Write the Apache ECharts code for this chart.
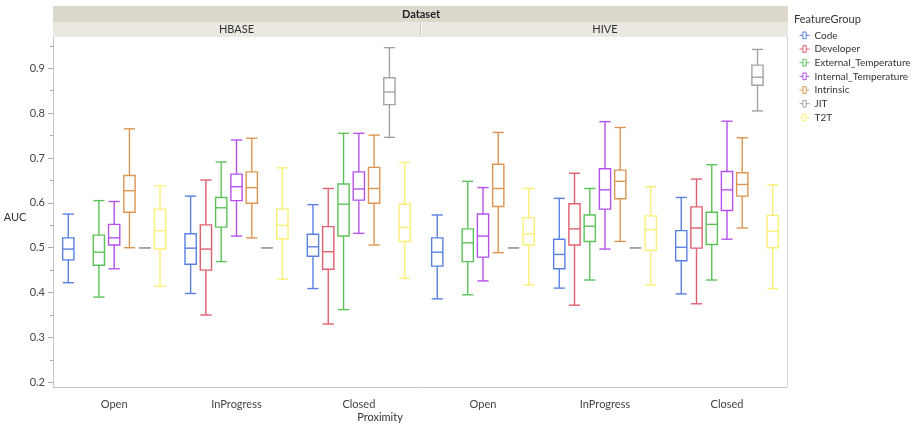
<!DOCTYPE html>
<html>
<head>
<meta charset="utf-8">
<script src="https://cdn.jsdelivr.net/npm/echarts@6/dist/echarts.min.js"></script>
<style>
  html, body { margin: 0; padding: 0; background: #fff; }
  #main { width: 921px; height: 427px; }
</style>
</head>
<body>
<div id="main"></div>
<script>
// categories
const proximity = ['Open', 'InProgress', 'Closed'];
const datasets = ['HBASE', 'HIVE'];
const groups = ['Code', 'Developer', 'External_Temperature', 'Internal_Temperature', 'Intrinsic', 'JIT', 'T2T'];
const colors = ['#5a80e4', '#e0606e', '#5cc35c', '#b452ee', '#dc9652', '#a3a3a3', '#fbef78'];

// box values per proximity: [low whisker, Q1, median, Q3, high whisker], null = no data
const codeHBASE      = [[0.422, 0.473, 0.497, 0.522, 0.575], [0.398, 0.463, 0.499, 0.531, 0.615], [0.409, 0.481, 0.502, 0.530, 0.596]];
const developerHBASE = [null, [0.350, 0.450, 0.497, 0.551, 0.651], [0.330, 0.452, 0.491, 0.547, 0.632]];
const extTempHBASE   = [[0.390, 0.461, 0.490, 0.528, 0.605], [0.469, 0.546, 0.589, 0.612, 0.691], [0.362, 0.526, 0.597, 0.642, 0.755]];
const intTempHBASE   = [[0.453, 0.506, 0.522, 0.552, 0.603], [0.526, 0.605, 0.636, 0.664, 0.740], [0.532, 0.606, 0.631, 0.669, 0.755]];
const intrinsicHBASE = [[0.500, 0.579, 0.627, 0.661, 0.765], [0.522, 0.599, 0.634, 0.669, 0.744], [0.506, 0.599, 0.632, 0.679, 0.751]];
const jitHBASE       = [[0.5, 0.5, 0.5, 0.5, 0.5], [0.5, 0.5, 0.5, 0.5, 0.5], [0.746, 0.819, 0.847, 0.879, 0.946]];
const t2tHBASE       = [[0.414, 0.497, 0.538, 0.586, 0.638], [0.430, 0.520, 0.550, 0.586, 0.678], [0.432, 0.514, 0.545, 0.597, 0.690]];

const codeHIVE      = [[0.386, 0.459, 0.490, 0.522, 0.573], [0.410, 0.453, 0.485, 0.519, 0.610], [0.397, 0.471, 0.501, 0.538, 0.612]];
const developerHIVE = [null, [0.372, 0.506, 0.542, 0.598, 0.666], [0.375, 0.499, 0.544, 0.591, 0.653]];
const extTempHIVE   = [[0.395, 0.469, 0.511, 0.542, 0.648], [0.428, 0.514, 0.548, 0.573, 0.632], [0.428, 0.507, 0.552, 0.579, 0.685]];
const intTempHIVE   = [[0.426, 0.479, 0.526, 0.575, 0.634], [0.497, 0.586, 0.629, 0.676, 0.781], [0.519, 0.583, 0.629, 0.670, 0.782]];
const intrinsicHIVE = [[0.489, 0.592, 0.632, 0.686, 0.757], [0.514, 0.609, 0.648, 0.673, 0.768], [0.544, 0.615, 0.641, 0.667, 0.745]];
const jitHIVE       = [[0.5, 0.5, 0.5, 0.5, 0.5], [0.5, 0.5, 0.5, 0.5, 0.5], [0.805, 0.862, 0.880, 0.907, 0.942]];
const t2tHIVE       = [[0.417, 0.506, 0.531, 0.567, 0.632], [0.417, 0.494, 0.540, 0.571, 0.636], [0.409, 0.500, 0.537, 0.572, 0.640]];

const yTicks = { min: 0.2, max: 1.0, interval: 0.1 };

const byDataset = [
    [codeHBASE, developerHBASE, extTempHBASE, intTempHBASE, intrinsicHBASE, jitHBASE, t2tHBASE],
    [codeHIVE, developerHIVE, extTempHIVE, intTempHIVE, intrinsicHIVE, jitHIVE, t2tHIVE]
];

const FONT = 'Lato, "Liberation Sans", sans-serif';
const chart = echarts.init(document.getElementById('main'));

// draws one box at its slot inside the category band
function boxRenderer(gi, color) {
    return function (params, api) {
        const band = api.size([1, 0])[0];
        const cat = api.value(0);
        const cx = api.coord([cat, 0.5])[0] + (gi - 3) * band * 0.125;
        const hw = band * 0.046;
        const y = k => api.coord([cat, api.value(k)])[1];
        const lo = y(1), q1 = y(2), md = y(3), q3 = y(4), hi = y(5);
        const st = { stroke: color, lineWidth: 1.4 };
        return {
            type: 'group',
            children: [
                { type: 'line', shape: { x1: cx, y1: hi, x2: cx, y2: q3 }, style: st },
                { type: 'line', shape: { x1: cx, y1: q1, x2: cx, y2: lo }, style: st },
                { type: 'line', shape: { x1: cx - hw, y1: hi, x2: cx + hw, y2: hi }, style: st },
                { type: 'line', shape: { x1: cx - hw, y1: lo, x2: cx + hw, y2: lo }, style: st },
                { type: 'rect', shape: { x: cx - hw, y: q3, width: hw * 2, height: q1 - q3 }, style: { stroke: color, lineWidth: 1.4, fill: 'none' } },
                { type: 'line', shape: { x1: cx - hw, y1: md, x2: cx + hw, y2: md }, style: st }
            ]
        };
    };
}

const series = [];
datasets.forEach((ds, di) => {
    groups.forEach((g, gi) => {
        const data = [];
        byDataset[di][gi].forEach((v, ci) => { if (v) data.push([ci].concat(v)); });
        series.push({
            type: 'custom',
            name: g,
            xAxisIndex: di,
            yAxisIndex: di,
            itemStyle: { color: colors[gi] },
            encode: { x: 0, y: [1, 2, 3, 4, 5] },
            renderItem: boxRenderer(gi, colors[gi]),
            data: data
        });
    });
});

const axisLabelStyle = { color: '#444', fontSize: 11, fontFamily: FONT };

const option = {
    animation: false,
    grid: [
        { left: 53, top: 23.4, width: 367, height: 358.9 },
        { left: 422, top: 23.4, width: 366, height: 358.9 }
    ],
    xAxis: [0, 1].map(i => ({
        type: 'category',
        gridIndex: i,
        data: proximity,
        axisLine: { show: false },
        axisTick: { show: false },
        axisLabel: Object.assign({ margin: 17 }, axisLabelStyle)
    })),
    yAxis: [0, 1].map(i => ({
        type: 'value',
        gridIndex: i,
        show: i === 0,
        min: yTicks.min,
        max: yTicks.max,
        interval: yTicks.interval,
        axisLine: { show: false },
        axisTick: { show: true, length: 5, lineStyle: { color: '#aaa' } },
        minorTick: { show: true, splitNumber: 2, length: 3, lineStyle: { color: '#aaa' } },
        splitLine: { show: false },
        axisLabel: Object.assign({ margin: 8, showMaxLabel: false, formatter: v => v.toFixed(1) }, axisLabelStyle)
    })),
    legend: {
        orient: 'vertical',
        left: 792,
        top: 24.5,
        itemWidth: 10,
        itemHeight: 8,
        itemGap: 2,
        textStyle: { fontSize: 10, color: '#333', fontFamily: FONT },
        data: groups.map((g, i) => ({
            name: g,
            icon: 'path://M0,5H4M8,5H12M4,1H8V9H4Z',
            itemStyle: { color: 'none', borderColor: colors[i], borderWidth: 1 }
        }))
    },
    graphic: [
        // hide the tick above the frame
        { type: 'rect', z: 100, shape: { x: 30, y: 0, width: 23, height: 37 }, style: { fill: '#fff' } },
        { type: 'rect', z: 100, shape: { x: 53, y: 6, width: 735, height: 16 }, style: { fill: '#dcd8cc' } },
        { type: 'rect', z: 100, shape: { x: 53, y: 22, width: 735, height: 15 }, style: { fill: '#eae8e1' } },
        { type: 'line', z: 101, shape: { x1: 420.5, y1: 22, x2: 420.5, y2: 37 }, style: { stroke: '#d0cdc2', lineWidth: 1 } },
        { type: 'line', z: 101, shape: { x1: 421.5, y1: 22, x2: 421.5, y2: 37 }, style: { stroke: '#f7f6f2', lineWidth: 1 } },
        { type: 'text', z: 102, style: { text: 'Dataset', x: 421, y: 14.5, align: 'center', verticalAlign: 'middle', font: 'bold 11px ' + FONT, fill: '#222' } },
        { type: 'text', z: 102, style: { text: datasets[0], x: 236.5, y: 29.5, align: 'center', verticalAlign: 'middle', font: '11px ' + FONT, fill: '#333' } },
        { type: 'text', z: 102, style: { text: datasets[1], x: 605, y: 29.5, align: 'center', verticalAlign: 'middle', font: '11px ' + FONT, fill: '#333' } },
        // panel frame
        { type: 'line', z: 101, shape: { x1: 53.5, y1: 37, x2: 53.5, y2: 388 }, style: { stroke: '#c4c4c4', lineWidth: 1 } },
        { type: 'line', z: 101, shape: { x1: 53, y1: 387.5, x2: 788, y2: 387.5 }, style: { stroke: '#c4c4c4', lineWidth: 1 } },
        { type: 'line', z: 101, shape: { x1: 787.5, y1: 37, x2: 787.5, y2: 388 }, style: { stroke: '#d6d6d6', lineWidth: 1 } },
        { type: 'text', z: 102, style: { text: 'AUC', x: 15, y: 217, align: 'center', verticalAlign: 'middle', font: '11px ' + FONT, fill: '#333' } },
        { type: 'text', z: 102, style: { text: 'Proximity', x: 380, y: 417, align: 'center', verticalAlign: 'middle', font: '11px ' + FONT, fill: '#333' } },
        { type: 'text', z: 102, style: { text: 'FeatureGroup', x: 794, y: 19, align: 'left', verticalAlign: 'middle', font: '11px ' + FONT, fill: '#333' } }
    ],
    series: series
};

option && chart.setOption(option);
</script>
</body>
</html>
